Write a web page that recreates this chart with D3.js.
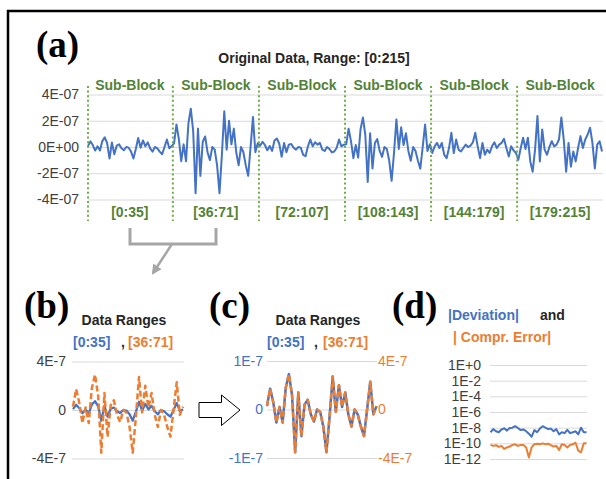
<!DOCTYPE html>
<html lang="en">
<head>
<meta charset="UTF-8">
<title>Sub-Block Data</title>
<script src="https://d3js.org/d3.v7.min.js"></script>
<style>
  body { margin: 0; background: #ffffff; }
  text { font-family: 'Liberation Sans', Arial, sans-serif; }
  .panelLabel { font-family: 'Liberation Serif', 'Times New Roman', serif; font-weight: bold; font-size: 37px; fill: #000000; }
  .title { font-size: 14px; font-weight: bold; fill: #262626; }
  .green { font-size: 14px; font-weight: bold; fill: #548235; }
</style>
</head>
<body>
<svg id="mainCanvas" width="606" height="479" xmlns="http://www.w3.org/2000/svg"></svg>
<script>

// original data, values in units of 1E-7, six sub-blocks of 36 points
const block1 = [0.07, 0.43, 0.15, -0.27, 0.05, -0.27, 0.45, 0.73, 0.3, -0.88, 0.35, -0.55, 0.1, 0.2, -0.1, -0.25, 0.0, -0.05,
                -0.35, -0.88, -0.15, 0.68, -0.05, 0.5, 0.05, 0.35, -0.1, -0.35, 0.0, -0.1, -0.35, -0.55, 0.0, 0.57, -0.1, 0.07];
const block2 = [0.28, 1.72, 0.6, -1.08, 0.2, -1.08, 1.8, 2.92, 1.2, -3.52, 1.4, -2.2, 0.4, 0.8, -0.4, -1.0, 0.0, -0.2,
                -1.4, -3.52, -0.6, 2.72, -0.2, 2.0, 0.2, 1.4, -0.4, -1.4, 0.0, -0.4, -1.4, -2.2, 0.0, 2.28, -0.4, 0.28];
const block3 = [0.1, 0.4, 0.15, -0.25, 0.08, -0.3, 0.5, 0.65, 0.25, -0.75, 0.3, -0.4, 0.18, 0.23, -0.05, -0.2, 0.0, -0.05,
                -0.6, -0.7, 0.05, 0.57, 0.05, 0.36, 0.18, 0.31, -0.2, -0.3, 0.0, -0.15, -0.41, -0.34, -0.08, 0.57, 0.05, 0.18];
const block4 = [0.2, 1.39, 0.45, -0.85, 0.15, -0.81, 1.35, 2.25, 0.9, -2.66, 1.05, -1.63, 0.3, 0.6, -0.3, -0.75, 0.0, -0.15,
                -1.05, -2.58, -0.45, 2.1, -0.15, 1.5, 0.15, 1.05, -0.3, -1.05, 0.0, -0.3, -1.05, -1.65, 0.0, 1.71, -0.3, 0.21];
const block5 = [-0.46, 0.05, 0.31, -0.08, 0.31, -0.59, -0.85, -0.08, 1.08, -0.46, 0.57, -0.2, -0.34, -0.08, 0.18, 0.0, 0.1, 0.36,
                1.08, 0.05, -0.85, 0.31, -0.59, -0.2, -0.46, 0.05, 0.36, -0.08, 0.18, 0.31, 0.62, -0.08, -0.72, 0.05, -0.26, -0.46];
const block6 = [-0.98, -0.08, 0.7, -0.15, 0.7, -1.1, -1.88, -0.2, 2.37, -1.1, 1.34, -0.2, -0.59, 0.0, 0.44, 0.05, 0.18, 0.57,
                2.25, 0.57, -1.88, 0.31, -1.5, -0.34, -1.1, -0.08, 0.83, -0.08, 0.57, 0.95, 1.47, 0.31, -1.63, 0.18, 0.44, -0.34];

const blockRanges = ['[0:35]', '[36:71]', '[72:107]', '[108:143]', '[144:179]', '[179:215]'];
const topTicks = [4, 2, 0, -2, -4];
const topTickLabels = ['4E-07', '2E-07', '0E+00', '-2E-07', '-4E-07'];

// panel (b) and (c) ticks, same 1E-7 units
const bTicks = [4, 0, -4];
const bTickLabels = ['4E-7', '0', '-4E-7'];
const cLeftTicks = [1, 0, -1];
const cLeftTickLabels = ['1E-7', '0', '-1E-7'];
const cRightTicks = [4, 0, -4];
const cRightTickLabels = ['4E-7', '0', '-4E-7'];

// panel (d): |deviation| and |compression error|, log scale
const deviationAbs = [2.6e-9, 6.5e-9, 3.5e-9, 2.6e-9, 5.9e-9, 8.3e-9, 4.2e-9, 9.1e-9, 1.0e-8, 1.55e-8, 9.1e-9, 4.9e-9,
                      5.9e-9, 3.5e-9, 1.7e-9, 7e-10, 4.9e-9, 2.6e-9, 7.6e-9, 1.55e-8, 1.0e-8, 6.5e-9, 7.6e-9, 3.5e-9,
                      6.5e-9, 1.4e-9, 2.6e-9, 2.0e-9, 5.4e-9, 2.0e-9, 2.6e-9, 3.5e-9, 1.4e-9, 1.0e-8, 2.6e-9, 2.6e-9];
const comprErrorAbs = [6.3e-11, 4.7e-11, 5.8e-11, 3.5e-11, 4.7e-11, 1.9e-11, 3.0e-11, 3.9e-11, 6.3e-11, 7.6e-11, 4.7e-11, 6.3e-11,
                       6.3e-11, 3.0e-11, 1.6e-12, 3.2e-11, 7.6e-11, 9.1e-11, 7.6e-11, 1.0e-10, 7.6e-11, 9.1e-11, 5.8e-11, 3.9e-11,
                       4.7e-11, 1.4e-11, 7.6e-11, 6.3e-11, 3.0e-11, 6.3e-11, 7.6e-11, 1.2e-10, 1.15e-11, 7.2e-12, 1.0e-10, 1.0e-10];
const logTicks = [1, 1e-2, 1e-4, 1e-6, 1e-8, 1e-10, 1e-12];
const logTickLabels = ['1E+0', '1E-2', '1E-4', '1E-6', '1E-8', '1E-10', '1E-12'];

const blue = '#4472c4';
const orange = '#ed7d31';
const gridColour = '#d9d9d9';
const tickColour = '#404040';

let svg = d3.select('#mainCanvas');

// outer frame
svg.append('rect')
    .attr('x', 8).attr('y', 11)
    .attr('width', 640).attr('height', 500)
    .style('fill', 'none')
    .style('stroke', '#000000')
    .style('stroke-width', 2.5);

let addText = function(x, y, txt, cls, colour, anchor) {
    let t = svg.append('text')
        .attr('x', x).attr('y', y)
        .attr('class', cls)
        .attr('text-anchor', anchor || 'start')
        .text(txt);
    if (colour) {
        t.style('fill', colour);
    }
    return t;
};

let boldText = function(x, y, txt, colour, anchor) {
    return svg.append('text')
        .attr('x', x).attr('y', y)
        .attr('text-anchor', anchor || 'start')
        .style('font-size', '14px')
        .style('font-weight', 'bold')
        .style('fill', colour)
        .text(txt);
};

// draws gridlines + tick labels with a d3 axis
let drawAxis = function(axis, xPos, labels, colour) {
    let g = svg.append('g')
        .attr('transform', 'translate(' + xPos + ',0)')
        .call(axis.tickFormat(function(d, i) { return labels[i]; }));
    g.select('.domain').remove();
    g.selectAll('.tick line').style('stroke', gridColour).style('stroke-width', 1);
    g.selectAll('.tick text')
        .style('font-family', "'Liberation Sans', Arial, sans-serif")
        .style('font-size', '14px')
        .style('fill', colour || tickColour);
    return g;
};

let drawLine = function(data, x, y, colour, width, dash) {
    let line = d3.line()
        .x(function(d, i) { return x(i); })
        .y(function(d) { return y(d); });
    let p = svg.append('path')
        .datum(data)
        .attr('d', line)
        .style('fill', 'none')
        .style('stroke', colour)
        .style('stroke-width', width)
        .style('stroke-linejoin', 'round');
    if (dash) {
        p.style('stroke-dasharray', dash);
    }
    return p;
};

// ---------- panel (a) ----------
addText(36, 57, '(a)', 'panelLabel');
addText(314, 63, 'Original Data, Range: [0:215]', 'title', null, 'middle');

const allBlocks = [block1, block2, block3, block4, block5, block6];
const original = [].concat(block1, block2, block3, block4, block5, block6);

let xTop = d3.scaleLinear().domain([0, original.length - 1]).range([88, 602]);
let yTop = d3.scaleLinear().domain([-4, 4]).range([199.5, 94.5]);

drawAxis(d3.axisLeft(yTop).tickValues(topTicks).tickSize(-515).tickPadding(9), 88, topTickLabels);

drawLine(original, xTop, yTop, blue, 2);

allBlocks.forEach(function(b, k) {
    let start = k * b.length;
    let xDiv = xTop(Math.max(0, start - 0.5));
    svg.append('line')
        .attr('x1', xDiv).attr('x2', xDiv)
        .attr('y1', 86).attr('y2', 221)
        .style('stroke', '#70ad47')
        .style('stroke-width', 2)
        .style('stroke-dasharray', '2,2.6');
    let xMid = xTop(start + (b.length - 1) / 2);
    addText(xMid, 90, 'Sub-Block', 'green', null, 'middle');
    addText(xMid, 217, blockRanges[k], 'green', null, 'middle');
});

// bracket from [0:35] and [36:71] down to panel (b)
svg.append('path')
    .attr('d', 'M130,228 V244 H216 V228')
    .style('fill', 'none')
    .style('stroke', '#a6a6a6')
    .style('stroke-width', 3);
svg.append('defs').append('marker')
    .attr('id', 'grayHead')
    .attr('viewBox', '0 0 10 10')
    .attr('refX', 8).attr('refY', 5)
    .attr('markerWidth', 4).attr('markerHeight', 4)
    .attr('orient', 'auto')
    .append('path')
    .attr('d', 'M0,0 L10,5 L0,10 Z')
    .style('fill', '#a6a6a6');
svg.append('line')
    .attr('x1', 172).attr('y1', 244)
    .attr('x2', 153).attr('y2', 273)
    .style('stroke', '#a6a6a6')
    .style('stroke-width', 2.5)
    .attr('marker-end', 'url(#grayHead)');

// ---------- panel (b) ----------
addText(24, 318, '(b)', 'panelLabel');
addText(124, 325, 'Data Ranges', 'title', null, 'middle');
boldText(73, 347, blockRanges[0], blue);
boldText(121, 347, ',', '#262626');
boldText(128, 347, blockRanges[1], orange);

let xB = d3.scaleLinear().domain([0, block1.length - 1]).range([73, 183]);
let yB = d3.scaleLinear().domain([-4, 4]).range([458.5, 361.5]);
drawAxis(d3.axisLeft(yB).tickValues(bTicks).tickSize(-112).tickPadding(6), 72, bTickLabels);
drawLine(block1, xB, yB, blue, 2.25);
drawLine(block2, xB, yB, orange, 2.5, '6,3');

// hollow arrow (b) -> (c)
svg.append('path')
    .attr('d', 'M199,402.5 H221.5 V395 L240,410 L221.5,425.5 V417.5 H199 Z')
    .style('fill', '#ffffff')
    .style('stroke', '#000000')
    .style('stroke-width', 1);

// ---------- panel (c) ----------
addText(209, 318, '(c)', 'panelLabel');
addText(318, 325, 'Data Ranges', 'title', null, 'middle');
boldText(267, 347, blockRanges[0], blue);
boldText(314, 347, ',', '#262626');
boldText(323, 347, blockRanges[1], orange);

let xC = d3.scaleLinear().domain([0, block1.length - 1]).range([267, 376.5]);
let yCLeft = d3.scaleLinear().domain([-1, 1]).range([458, 361]);
let yCRight = d3.scaleLinear().domain([-4, 4]).range([458, 361]);
drawAxis(d3.axisLeft(yCLeft).tickValues(cLeftTicks).tickSize(-110).tickPadding(4), 267, cLeftTickLabels, blue);
drawAxis(d3.axisRight(yCRight).tickValues(cRightTicks).tickSize(0).tickPadding(1), 377, cRightTickLabels, orange);
drawLine(block1, xC, yCLeft, blue, 2.5);
drawLine(block2, xC, yCRight, orange, 2.5, '6,3');

// ---------- panel (d) ----------
addText(392, 318, '(d)', 'panelLabel');
boldText(448, 320, '|Deviation|', blue);
boldText(540, 320, 'and', '#262626');
boldText(453, 342, '| Compr. Error|', orange);

let xD = d3.scaleLinear().domain([0, deviationAbs.length - 1]).range([490.5, 586.5]);
let yD = d3.scaleLog().domain([1e-12, 1]).range([459, 365]);
drawAxis(d3.axisLeft(yD).tickValues(logTicks).tickSize(-97).tickPadding(9), 490, logTickLabels);
drawLine(deviationAbs, xD, yD, blue, 2);
drawLine(comprErrorAbs, xD, yD, orange, 2);

</script>
</body>
</html>
